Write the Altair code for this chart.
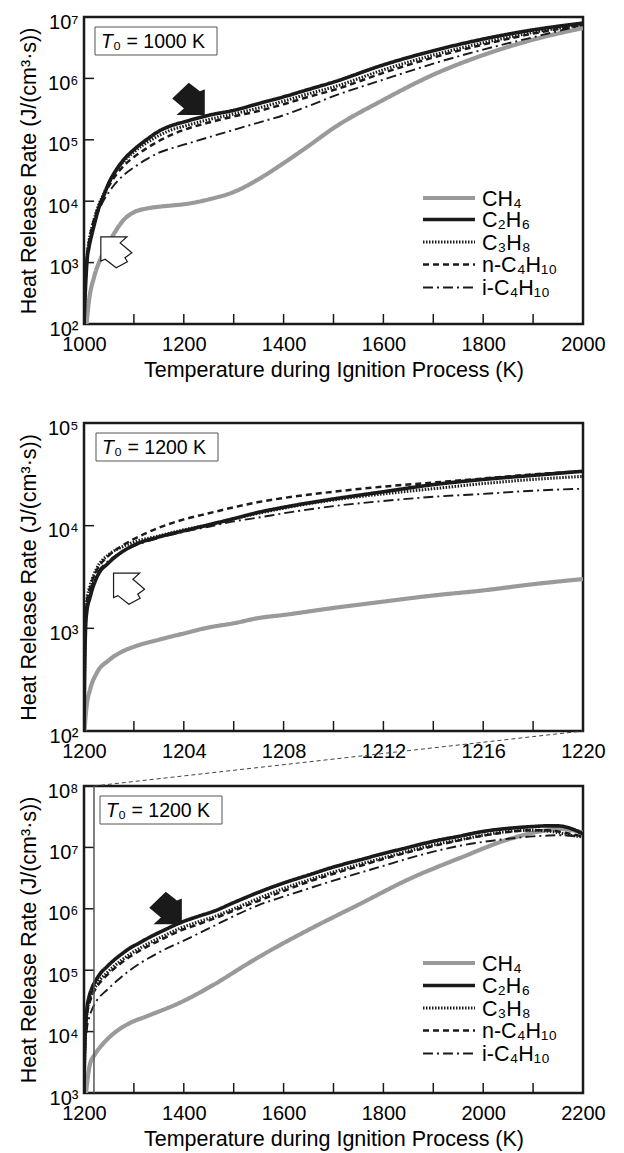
import altair as alt
import pandas as pd

FONT = "Liberation Sans"
INK = "#1a1a1a"

# ---------------- legend / style categories ----------------
species = ["CH₄", "C₂H₆", "C₃H₈", "n-C₄H₁₀", "i-C₄H₁₀"]
line_colors = ["#9a9a9a", INK, INK, INK, INK]
line_dashes = [[1, 0], [1, 0], [1.5, 1.5], [6, 4], [10, 4, 2, 4]]
line_widths = [4.2, 1.9, 1.9, 1.9, 1.9]

# ---------------- panel 1 : T0 = 1000 K ----------------
p1_T_ch4 = [1005, 1010, 1020, 1030, 1040, 1050, 1060, 1080, 1100, 1125, 1150, 1175, 1200,
            1250, 1300, 1350, 1400, 1450, 1500, 1600, 1700, 1800, 1900, 2000]
p1_ch4 = [100, 240, 575, 1000, 1510, 2140, 2950, 5010, 6610, 7590, 8130, 8510, 8910,
          10700, 14100, 22900, 41700, 79400, 1.55e5, 4.47e5, 1.15e6, 2.40e6, 4.27e6, 6.61e6]
p1_T = [1000, 1003, 1006, 1010, 1016, 1020, 1030, 1040, 1050, 1060, 1080, 1100, 1125, 1150,
        1175, 1200, 1250, 1300, 1350, 1400, 1450, 1500, 1600, 1700, 1800, 1900, 2000]
p1_c2h6 = [100, 398, 1070, 1780, 2950, 3980, 7940, 12600, 20000, 28200, 47900, 69200, 1.0e5,
           1.38e5, 1.70e5, 1.95e5, 2.51e5, 3.02e5, 3.89e5, 5.01e5, 6.61e5, 8.71e5, 1.66e6,
           2.82e6, 4.37e6, 6.17e6, 7.94e6]
p1_c3h8 = [100, 501, 1260, 2240, 3800, 5010, 8910, 13500, 20000, 27500, 44700, 63100, 89100,
           1.17e5, 1.45e5, 1.66e5, 2.14e5, 2.63e5, 3.31e5, 4.27e5, 5.62e5, 7.24e5, 1.38e6,
           2.40e6, 3.80e6, 5.62e6, 7.59e6]
p1_nc4h10 = [100, 501, 1260, 2240, 3800, 5010, 8510, 12600, 17800, 24000, 38000, 52500, 72400,
             95500, 1.20e5, 1.45e5, 1.91e5, 2.40e5, 2.95e5, 3.80e5, 5.01e5, 6.46e5, 1.23e6,
             2.19e6, 3.55e6, 5.37e6, 7.41e6]
p1_ic4h10 = [100, 398, 1000, 1780, 3160, 4170, 7080, 10500, 14100, 18200, 26900, 35500, 47900,
             61700, 72400, 83200, 1.10e5, 1.45e5, 1.91e5, 2.51e5, 3.55e5, 5.13e5, 9.55e5,
             1.74e6, 2.95e6, 4.68e6, 7.41e6]

# ---------------- panel 2 : T0 = 1200 K (zoom 1200-1220 K) ----------------
p2_T_ch4 = [1200.02, 1200.05, 1200.1, 1200.25, 1200.5, 1201, 1201.5, 1202, 1203, 1204, 1205,
            1206, 1207, 1208, 1210, 1212, 1214, 1216, 1218, 1220]
p2_ch4 = [100, 126, 170, 257, 363, 490, 589, 661, 776, 891, 1020, 1120, 1260, 1350, 1580,
          1820, 2090, 2340, 2690, 3020]
p2_T = [1200, 1200.05, 1200.1, 1200.25, 1200.5, 1201, 1201.5, 1202, 1203, 1204, 1205, 1206,
        1207, 1208, 1210, 1212, 1214, 1216, 1218, 1220]
p2_c2h6 = [100, 794, 1380, 2040, 3090, 4370, 5500, 6460, 7760, 8910, 10200, 11700, 13500,
           15100, 18200, 21400, 25100, 28200, 30900, 33900]
p2_c3h8 = [100, 1000, 1780, 2630, 3800, 5250, 6170, 6920, 7940, 9120, 10200, 11700, 13200,
           14800, 17800, 20400, 22900, 25700, 28200, 30200]
p2_nc4h10 = [100, 1000, 1660, 2510, 3630, 5130, 6310, 7410, 9550, 11500, 13200, 15100, 17000,
             18600, 21400, 24000, 26300, 28800, 31600, 33900]
p2_ic4h10 = [100, 891, 1510, 2290, 3310, 4570, 5500, 6310, 7590, 8710, 9770, 11000, 12000,
             13200, 15500, 17400, 19100, 20400, 21900, 22900]

# ---------------- panel 3 : T0 = 1200 K (full) ----------------
p3_T_ch4 = [1204, 1206, 1212, 1222, 1238, 1258, 1292, 1326, 1392, 1459, 1527, 1560, 1653,
            1753, 1853, 1954, 2054, 2120, 2154, 2200]
p3_ch4 = [1000, 1410, 2950, 4270, 6310, 9120, 13800, 17800, 29500, 57500, 1.26e5, 1.82e5,
          4.68e5, 1.20e6, 3.09e6, 6.76e6, 1.38e7, 1.86e7, 2.00e7, 1.74e7]
p3_T = [1200, 1202, 1206, 1210, 1216, 1225, 1232, 1245, 1258, 1275, 1292, 1310, 1330, 1360,
        1392, 1430, 1460, 1500, 1550, 1600, 1650, 1700, 1750, 1800, 1850, 1900, 1950, 2000,
        2050, 2100, 2125, 2150, 2175, 2200]
p3_c2h6 = [1000, 7940, 24000, 36300, 51300, 70800, 87100, 1.12e5, 1.41e5, 1.82e5, 2.29e5,
           2.75e5, 3.39e5, 4.47e5, 5.89e5, 7.59e5, 9.12e5, 1.26e6, 1.86e6, 2.63e6, 3.55e6,
           4.79e6, 6.17e6, 7.94e6, 1.00e7, 1.26e7, 1.51e7, 1.82e7, 2.04e7, 2.19e7, 2.24e7,
           2.24e7, 2.04e7, 1.66e7]
p3_c3h8 = [1000, 6310, 20000, 30200, 41700, 57500, 69200, 89100, 1.12e5, 1.45e5, 1.82e5,
           2.24e5, 2.75e5, 3.63e5, 4.79e5, 6.17e5, 7.41e5, 1.00e6, 1.48e6, 2.14e6, 2.95e6,
           3.98e6, 5.25e6, 6.76e6, 8.71e6, 1.10e7, 1.32e7, 1.58e7, 1.82e7, 1.91e7, 1.86e7,
           1.74e7, 1.58e7, 1.48e7]
p3_nc4h10 = [1000, 6030, 18200, 27500, 38000, 52500, 63100, 81300, 1.02e5, 1.32e5, 1.66e5,
             2.04e5, 2.51e5, 3.31e5, 4.37e5, 5.62e5, 6.92e5, 9.33e5, 1.35e6, 1.95e6, 2.75e6,
             3.72e6, 4.90e6, 6.46e6, 8.32e6, 1.05e7, 1.29e7, 1.55e7, 1.78e7, 1.91e7, 1.91e7,
             1.82e7, 1.66e7, 1.51e7]
p3_ic4h10 = [1000, 3980, 11200, 16600, 22900, 31600, 37200, 46800, 58900, 77600, 1.00e5,
             1.26e5, 1.58e5, 2.14e5, 2.82e5, 3.98e5, 5.25e5, 7.59e5, 1.15e6, 1.58e6, 2.14e6,
             2.88e6, 3.80e6, 5.01e6, 6.61e6, 8.51e6, 1.05e7, 1.23e7, 1.38e7, 1.51e7, 1.55e7,
             1.58e7, 1.55e7, 1.51e7]

# ---------------- axes ----------------
p1_xdom, p1_ydom = [1000, 2000], [1e2, 1e7]
p2_xdom, p2_ydom = [1200, 1220], [1e2, 1e5]
p3_xdom, p3_ydom = [1200, 2200], [1e3, 1e8]
p1_xlabels = [1000, 1200, 1400, 1600, 1800, 2000]
p2_xlabels = [1200, 1204, 1208, 1212, 1216, 1220]
p3_xlabels = [1200, 1400, 1600, 1800, 2000, 2200]
p1_xticks = [1100, 1200, 1300, 1400, 1500, 1600, 1700, 1800, 1900]
p2_xticks = [1202, 1204, 1206, 1208, 1210, 1212, 1214, 1216, 1218]
p3_xticks = [1300, 1400, 1500, 1600, 1700, 1800, 1900, 2000, 2100]
p1_ylabels = [1e2, 1e3, 1e4, 1e5, 1e6, 1e7]
p2_ylabels = [1e2, 1e3, 1e4, 1e5]
p3_ylabels = [1e3, 1e4, 1e5, 1e6, 1e7, 1e8]

x_title = "Temperature during Ignition Process (K)"
y_title = "Heat Release Rate (J/(cm³·s))"
t0_labels = ["₀ = 1000 K", "₀ = 1200 K", "₀ = 1200 K"]

# annotation arrows (data coordinates)
p1_arrow_black = {"T": [1210], "HRR": [4.6e5]}
p1_arrow_white = {"T": [1064.5], "HRR": [1480]}
p2_arrow_white = {"T": [1201.8], "HRR": [2440]}
p3_arrow_black = {"T": [1364], "HRR": [1.02e6]}
zoom_T = 1220  # zoom window end marked in panel 3

BLACK_ARROW = "M0.96,0.96 L-0.67,0.96 L-0.25,0.58 L-0.98,-0.04 L0,-0.98 L0.69,-0.44 L0.96,-0.56 Z"
WHITE_ARROW = "M-0.96,-0.96 L0.67,-0.96 L0.25,-0.58 L0.98,0.04 L0.55,0.35 L0.7,0.6 L0,0.98 L-0.69,0.44 L-0.96,0.56 Z"

W = 499
H1, H2, H3 = 307, 308, 307
GAP1, GAP2 = 99, 55

# legend row centres (px from the top of each panel)
p1_legend_rows = [181, 202.5, 225, 247.5, 270.5]
p3_legend_rows = [177, 199.5, 222, 244.5, 267.5]

SUP = "['⁰','¹','²','³','⁴','⁵','⁶','⁷','⁸','⁹']"
YLABEL_EXPR = "'10' + " + SUP + "[round(log(datum.value) / LN10)]"


def long_df(t_ch4, ch4, t_all, series):
    rows = [{"T": t, "HRR": v, "species": species[0]} for t, v in zip(t_ch4, ch4)]
    for name, vals in zip(species[1:], series):
        rows += [{"T": t, "HRR": v, "species": name} for t, v in zip(t_all, vals)]
    return pd.DataFrame(rows)


def style_channels():
    return dict(
        color=alt.Color("species:N", scale=alt.Scale(domain=species, range=line_colors),
                        legend=None),
        strokeDash=alt.StrokeDash("species:N",
                                  scale=alt.Scale(domain=species, range=line_dashes),
                                  legend=None),
        strokeWidth=alt.StrokeWidth("species:N",
                                    scale=alt.Scale(domain=species, range=line_widths),
                                    legend=None),
    )


def panel(df, xdom, ydom, xlabels, xticks, ylabels, height, with_title, legend_rows,
          t0_text, box_x0, arrows, extra_fn=None):
    xs = alt.Scale(domain=xdom, nice=False, zero=False)
    ys = alt.Scale(type="log", domain=ydom, nice=False)
    xaxis = alt.Axis(values=xlabels, ticks=False, grid=False, domain=False,
                     labelFont=FONT, labelFontSize=20, labelColor="black", labelPadding=10,
                     labelFlush=False, labelOverlap=False, format="d",
                     title=x_title if with_title else "",
                     titleFont=FONT, titleFontSize=21.5, titleFontWeight="normal",
                     titleColor="black", titlePadding=5)
    yaxis = alt.Axis(values=ylabels, ticks=False, grid=False, domain=False,
                     labelFont=FONT, labelFontSize=20, labelColor="black", labelPadding=6,
                     labelOffset=5, labelFlush=False, labelOverlap=False,
                     labelExpr=YLABEL_EXPR, title=y_title,
                     titleFont=FONT, titleFontSize=21.5, titleFontWeight="normal",
                     titleColor="black", titlePadding=7)

    def X(field="T:Q"):
        return alt.X(field, scale=xs, axis=xaxis)

    def Y(field="HRR:Q"):
        return alt.Y(field, scale=ys, axis=yaxis)

    lines = alt.Chart(df).mark_line(clip=True, interpolate="monotone").encode(
        x=X(), y=Y(), **style_channels())
    xt = alt.Chart(pd.DataFrame({"T": xticks})).mark_rule(color=INK, strokeWidth=1.5).encode(
        x=X(), y=alt.value(height), y2=alt.value(height - 10))
    inner_y = [v for v in ylabels if ydom[0] < v < ydom[1]]
    yt = alt.Chart(pd.DataFrame({"HRR": inner_y})).mark_rule(color=INK, strokeWidth=1.5).encode(
        y=Y(), x=alt.value(0), x2=alt.value(10))
    one = pd.DataFrame({"label": [t0_text]})
    box = alt.Chart(one).mark_rect(fill="white", stroke="#555555", strokeWidth=1).encode(
        x=alt.value(box_x0), x2=alt.value(box_x0 + 122), y=alt.value(10), y2=alt.value(38))
    t_it = alt.Chart(one).mark_text(align="left", baseline="alphabetic", font=FONT,
                                    fontSize=19.5, fontStyle="italic", color="black",
                                    text="T").encode(
        x=alt.value(box_x0 + 6), y=alt.value(31))
    t_rest = alt.Chart(one).mark_text(align="left", baseline="alphabetic", font=FONT,
                                      fontSize=19.5, color="black").encode(
        x=alt.value(box_x0 + 18), y=alt.value(31), text="label:N")
    extra = extra_fn(X, Y) if extra_fn else []
    layers = [lines, xt, yt] + extra + [box, t_it, t_rest]
    for data, shape, fill in arrows:
        layers.append(
            alt.Chart(pd.DataFrame(data)).mark_point(
                shape=shape, filled=True, fill=fill, stroke=INK, strokeWidth=1.2,
                size=1024, opacity=1).encode(x=X(), y=Y()))
    if legend_rows:
        for sp, ry in zip(species, legend_rows):
            d = pd.DataFrame({"species": [sp]})
            layers.append(alt.Chart(d).mark_rule().encode(
                x=alt.value(339), x2=alt.value(391), y=alt.value(ry), **style_channels()))
            layers.append(alt.Chart(d).mark_text(
                align="left", baseline="alphabetic", font=FONT, fontSize=21.5,
                color="black").encode(
                x=alt.value(398), y=alt.value(ry + 7.5), text="species:N"))
    return alt.layer(*layers).properties(width=W, height=height)


df1 = long_df(p1_T_ch4, p1_ch4, p1_T, [p1_c2h6, p1_c3h8, p1_nc4h10, p1_ic4h10])
df2 = long_df(p2_T_ch4, p2_ch4, p2_T, [p2_c2h6, p2_c3h8, p2_nc4h10, p2_ic4h10])
df3 = long_df(p3_T_ch4, p3_ch4, p3_T, [p3_c2h6, p3_c3h8, p3_nc4h10, p3_ic4h10])

p1 = panel(df1, p1_xdom, p1_ydom, p1_xlabels, p1_xticks, p1_ylabels, H1, True,
           p1_legend_rows, t0_labels[0], 11,
           [(p1_arrow_black, BLACK_ARROW, INK), (p1_arrow_white, WHITE_ARROW, "white")])
p2 = panel(df2, p2_xdom, p2_ydom, p2_xlabels, p2_xticks, p2_ylabels, H2, False, None,
           t0_labels[1], 12, [(p2_arrow_white, WHITE_ARROW, "white")])


def zoom_marks(X, Y):
    zone = pd.DataFrame({"T": [zoom_T], "T2": [p3_xdom[1]], "HRR": [p3_ydom[1]]})
    vline = alt.Chart(zone).mark_rule(color="#555555", strokeWidth=1.5).encode(
        x=X(), y=alt.value(0), y2=alt.value(H3))
    connector = alt.Chart(zone).mark_rule(color="#444444", strokeWidth=1, strokeDash=[4, 3],
                                          clip=False).encode(
        x=X(), y=Y(), x2="T2:Q", y2=alt.value(-GAP2))
    return [vline, connector]


p3 = panel(df3, p3_xdom, p3_ydom, p3_xlabels, p3_xticks, p3_ylabels, H3, True,
           p3_legend_rows, t0_labels[2], 16, [(p3_arrow_black, BLACK_ARROW, INK)],
           extra_fn=zoom_marks)


def spacer(h):
    return alt.Chart(pd.DataFrame({"s": [0]})).mark_point(opacity=0).encode(
        x=alt.value(0), y=alt.value(0)).properties(
        width=W, height=h, view=alt.ViewBackground(strokeOpacity=0))


chart = alt.vconcat(p1, spacer(GAP1), p2, spacer(GAP2), p3, spacing=0, bounds="flush").resolve_scale(
    x="independent", y="independent", color="independent",
    strokeDash="independent", strokeWidth="independent").properties(
    padding={"left": 8, "top": 2, "right": 5, "bottom": 2},
).configure_view(stroke=INK, strokeWidth=2.5)

chart.save("out.html", embed_options={"renderer": "svg", "actions": False})
